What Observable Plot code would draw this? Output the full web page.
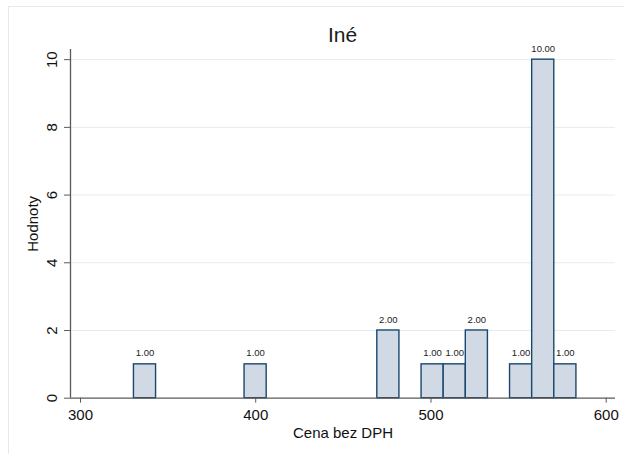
<!DOCTYPE html>
<html><head><meta charset="utf-8">
<script src="https://cdn.jsdelivr.net/npm/d3@7"></script>
<script src="https://cdn.jsdelivr.net/npm/@observablehq/plot@0.6"></script>
<style>
html,body{margin:0;padding:0;background:#fff;overflow:hidden;width:624px;height:454px}
#wrap{position:relative;width:624px;height:454px;overflow:hidden;font-family:"Liberation Sans",Arial,Helvetica,sans-serif}
#frame{position:absolute;left:8px;top:6px;width:700px;height:600px;border:1px solid #e3ebf1}
#chart{position:absolute;left:0;top:0}
#title{position:absolute;left:70px;width:545px;top:22px;text-align:center;font-size:21px;line-height:25px;color:#1a1a1a}
</style></head><body>
<div id="wrap"><div id="frame"></div><div id="chart"></div><div id="title"></div></div>
<script>
const chartTitle = "Iné";
const xLabel = "Cena bez DPH";
const yLabel = "Hodnoty";
const binStart = 330.5;
const binWidth = 12.625;
const binIndex = [0, 5, 11, 13, 14, 15, 17, 18, 19];
const counts = [1, 1, 2, 1, 1, 2, 1, 10, 1];
const xTicks = [300, 400, 500, 600];
const yTicks = [0, 2, 4, 6, 8, 10];
const xDomain = [294.3, 605.3];
const yDomain = [0, 10.3];

const bars = binIndex.map((b, i) => ({
  x1: binStart + b * binWidth,
  x2: binStart + (b + 1) * binWidth,
  y: counts[i]
}));

document.getElementById("title").textContent = chartTitle;

const font = '"Liberation Sans", Arial, Helvetica, sans-serif';
const axisColor = "#5a5a5a";

const plot = Plot.plot({
  width: 624,
  height: 454,
  marginLeft: 70,
  marginRight: 9,
  marginTop: 49,
  marginBottom: 56.3,
  x: {domain: xDomain},
  y: {domain: yDomain},
  style: {fontFamily: font, background: "transparent", color: "#1a1a1a"},
  marks: [
    Plot.ruleY(yTicks.filter(d => d > 0), {stroke: "#e4edf2", strokeWidth: 1}),
    Plot.rectY(bars, {x1: "x1", x2: "x2", y: "y", fill: "#d1dae4", stroke: "#1a476f", strokeWidth: 1.4}),
    Plot.text(bars, {x: d => (d.x1 + d.x2) / 2, y: "y", text: d => d.y.toFixed(2), dy: -11, fontSize: 9.5, fill: "#222", lineAnchor: "middle"}),
    Plot.ruleY([0], {stroke: axisColor, strokeWidth: 1.3}),
    Plot.ruleX([xDomain[0]], {stroke: axisColor, strokeWidth: 1.3}),
    Plot.axisY({ticks: yTicks, tickSize: 6, tickFormat: () => "", label: null, stroke: axisColor}),
    Plot.axisX({ticks: xTicks, tickSize: 5, tickFormat: () => "", label: null, stroke: axisColor}),
    Plot.text(yTicks, {y: d => d, text: d => String(d), frameAnchor: "left", dx: -18, rotate: -90, fontSize: 15, textAnchor: "middle", lineAnchor: "middle", fill: "#111"}),
    Plot.text(xTicks, {x: d => d, text: d => String(d), frameAnchor: "bottom", dy: 17, fontSize: 15, lineAnchor: "middle", fill: "#111"}),
    Plot.text([xLabel], {text: d => d, frameAnchor: "bottom", dy: 34.5, fontSize: 15, lineAnchor: "middle", fill: "#111"}),
    Plot.text([yLabel], {text: d => d, frameAnchor: "left", dx: -37, rotate: -90, fontSize: 15, textAnchor: "middle", lineAnchor: "middle", fill: "#111"})
  ]
});
document.getElementById("chart").appendChild(plot);
</script>
</body></html>
